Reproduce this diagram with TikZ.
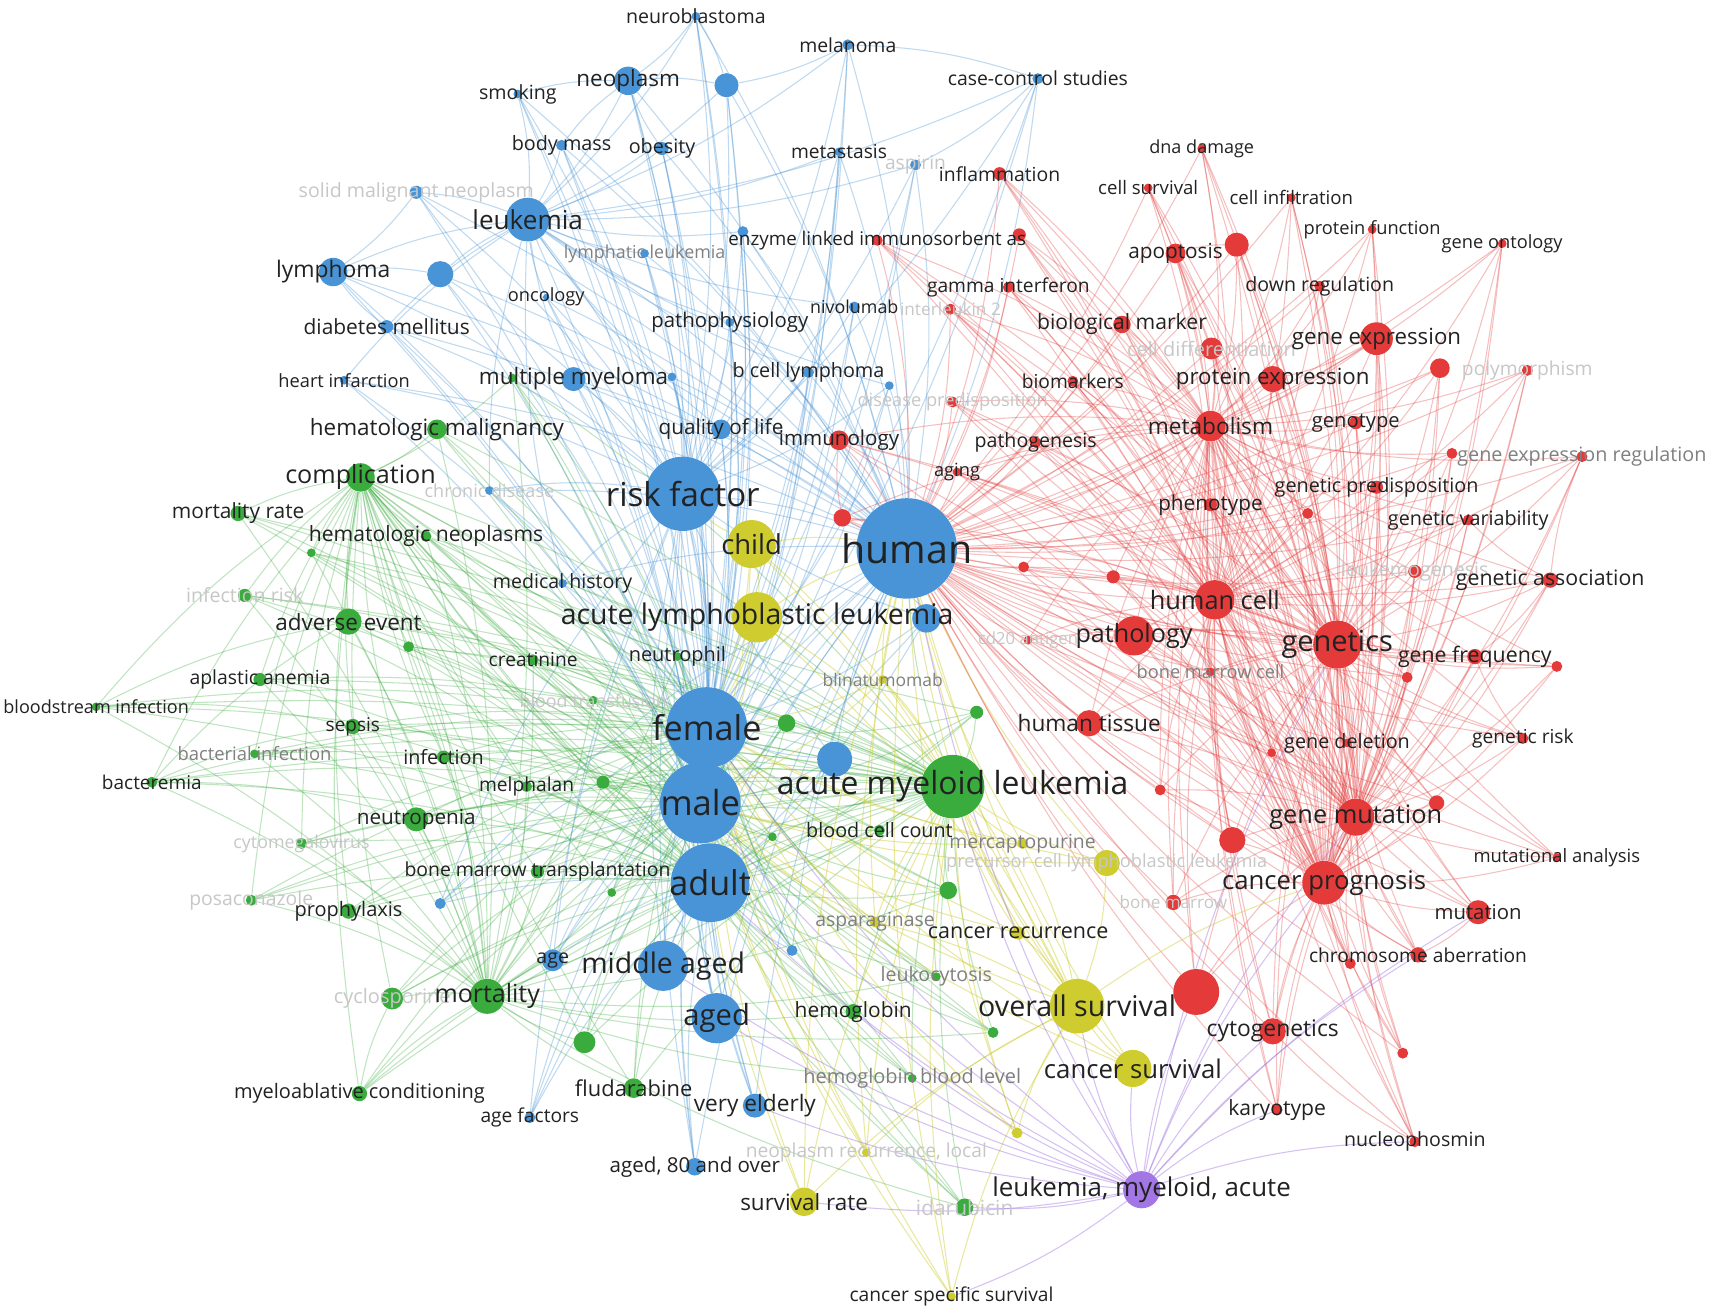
\documentclass[tikz,border=0pt]{standalone}
\usepackage{fontspec}
\setmainfont{Open Sans}
\pgfdeclarelayer{bg}
\pgfdeclarelayer{edges}
\pgfsetlayers{bg,edges,main}
\definecolor{cblue}{RGB}{72,148,214}
\definecolor{cred}{RGB}{228,58,58}
\definecolor{cgreen}{RGB}{58,172,62}
\definecolor{cyellow}{RGB}{206,204,46}
\definecolor{cpurple}{RGB}{162,118,228}
\definecolor{ctext}{RGB}{34,34,34}
\tikzset{
  kw/.style={circle, inner sep=0pt, fill=#1},
  sz/.style={minimum size=#1*0.4mm},
  lab/.style={inner sep=0pt, text=ctext},
  mid/.style={text=black!50},
  faint/.style={text=black!22},
  fz/.style={font=\fontsize{#1}{#1}\selectfont},
  eb/.style={draw=cblue, opacity=0.35, line width=0.55pt},
  er/.style={draw=cred, opacity=0.32, line width=0.55pt},
  eg/.style={draw=cgreen, opacity=0.32, line width=0.55pt},
  ey/.style={draw=cyellow, opacity=0.45, line width=0.55pt},
  ep/.style={draw=cpurple, opacity=0.45, line width=0.55pt}
}
\begin{document}
\begin{tikzpicture}[x=0.2mm, y=-0.2mm]
\useasboundingbox (0,0) rectangle (1568,1198);
\begin{pgfonlayer}{bg}
\fill[white] (0,0) rectangle (1568,1198);
\end{pgfonlayer}

% blue cluster
\node[kw=cblue, sz=4] (neurob) at (637,15) {};
\node[kw=cblue, sz=5] (melan) at (776,41) {};
\node[kw=cblue, sz=13] (neopl) at (575,74) {};
\node[kw=cblue, sz=11] (bx1) at (665,78) {};
\node[kw=cblue, sz=4] (smok) at (474,86) {};
\node[kw=cblue, sz=5] (casec) at (950,72) {};
\node[kw=cblue, sz=5] (bodym) at (514,133) {};
\node[kw=cblue, sz=6] (obes) at (606,136) {};
\node[kw=cblue, sz=4] (metas) at (768,139) {};
\node[kw=cblue, sz=5] (aspir) at (838,151) {};
\node[kw=cblue, sz=6] (solid) at (381,176) {};
\node[kw=cblue, sz=20] (leuk) at (483,201) {};
\node[kw=cblue, sz=4] (lymleuk) at (590,232) {};
\node[kw=cblue, sz=5] (bx2) at (680,212) {};
\node[kw=cblue, sz=12] (bx3) at (403,251) {};
\node[kw=cblue, sz=13] (lymph) at (305,249) {};
\node[kw=cblue, sz=3] (oncol) at (500,272) {};
\node[kw=cblue, sz=6] (diab) at (354,299) {};
\node[kw=cblue, sz=4] (patho) at (668,295) {};
\node[kw=cblue, sz=5] (nivo) at (782,281) {};
\node[kw=cblue, sz=4] (heart) at (315,348) {};
\node[kw=cblue, sz=11] (mm) at (525,347) {};
\node[kw=cblue, sz=4] (bx4) at (615,345) {};
\node[kw=cblue, sz=5] (bcell) at (740,341) {};
\node[kw=cblue, sz=4] (bx5) at (814,353) {};
\node[kw=cblue, sz=9] (qol) at (660,393) {};
\node[kw=cblue, sz=4] (chron) at (448,449) {};
\node[kw=cblue, sz=4] (medh) at (515,534) {};
\node[kw=cblue, sz=34] (rf) at (625,452) {};
\node[kw=cblue, sz=46] (hum) at (830,502) {};
\node[kw=cblue, sz=13] (bx7) at (848,566) {};
\node[kw=cblue, sz=37] (fem) at (647,666) {};
\node[kw=cblue, sz=16] (bx6) at (764,695) {};
\node[kw=cblue, sz=37] (male) at (641,735) {};
\node[kw=cblue, sz=36] (adult) at (650,808) {};
\node[kw=cblue, sz=5] (rfx) at (403,827) {};
\node[kw=cblue, sz=5] (bx8) at (725,870) {};
\node[kw=cblue, sz=10] (age) at (506,879) {};
\node[kw=cblue, sz=23] (midag) at (607,884) {};
\node[kw=cblue, sz=23] (aged) at (656,932) {};
\node[kw=cblue, sz=11] (velder) at (691,1012) {};
\node[kw=cblue, sz=5] (agef) at (485,1023) {};
\node[kw=cblue, sz=8] (age80) at (636,1068) {};

% red cluster
\node[kw=cred, sz=9] (immun) at (768,403) {};
\node[kw=cred, sz=8] (rx1) at (771,474) {};
\node[kw=cred, sz=5] (ilk) at (870,283) {};
\node[kw=cred, sz=5] (elisa) at (803,220) {};
\node[kw=cred, sz=6] (rx2) at (933,215) {};
\node[kw=cred, sz=5] (gamma) at (923,263) {};
\node[kw=cred, sz=6] (inflam) at (915,159) {};
\node[kw=cred, sz=4] (dnad) at (1100,136) {};
\node[kw=cred, sz=4] (cellsurv) at (1051,172) {};
\node[kw=cred, sz=4] (cellinf) at (1182,181) {};
\node[kw=cred, sz=4] (protf) at (1256,210) {};
\node[kw=cred, sz=4] (geneont) at (1375,223) {};
\node[kw=cred, sz=9] (apopt) at (1076,232) {};
\node[kw=cred, sz=11] (rx3) at (1132,224) {};
\node[kw=cred, sz=5] (downr) at (1208,262) {};
\node[kw=cred, sz=8] (biolm) at (1027,297) {};
\node[kw=cred, sz=10] (celldiff) at (1109,319) {};
\node[kw=cred, sz=15] (genexp) at (1260,310) {};
\node[kw=cred, sz=9] (rx4) at (1318,337) {};
\node[kw=cred, sz=5] (polym) at (1398,339) {};
\node[kw=cred, sz=12] (protexp) at (1165,347) {};
\node[kw=cred, sz=5] (biomk) at (982,349) {};
\node[kw=cred, sz=5] (disp) at (872,368) {};
\node[kw=cred, sz=14] (metab) at (1108,390) {};
\node[kw=cred, sz=6] (genot) at (1241,387) {};
\node[kw=cred, sz=5] (pathog) at (948,405) {};
\node[kw=cred, sz=4] (aging) at (876,432) {};
\node[kw=cred, sz=5] (gexreg) at (1448,418) {};
\node[kw=cred, sz=5] (rx5) at (1329,415) {};
\node[kw=cred, sz=6] (genpred) at (1260,446) {};
\node[kw=cred, sz=5] (rx6) at (1197,470) {};
\node[kw=cred, sz=6] (pheno) at (1108,462) {};
\node[kw=cred, sz=5] (genvar) at (1344,476) {};
\node[kw=cred, sz=5] (rx7) at (937,519) {};
\node[kw=cred, sz=6] (rx8) at (1019,528) {};
\node[kw=cred, sz=6] (leukgen) at (1295,523) {};
\node[kw=cred, sz=7] (genass) at (1419,531) {};
\node[kw=cred, sz=18] (humcell) at (1112,549) {};
\node[kw=cred, sz=4] (cd20) at (941,586) {};
\node[kw=cred, sz=18] (pathol) at (1038,582) {};
\node[kw=cred, sz=22] (genet) at (1224,590) {};
\node[kw=cred, sz=7] (genfreq) at (1350,601) {};
\node[kw=cred, sz=5] (rx9) at (1425,610) {};
\node[kw=cred, sz=5] (rx10) at (1288,620) {};
\node[kw=cred, sz=4] (bmcell) at (1108,615) {};
\node[kw=cred, sz=12] (humtis) at (997,662) {};
\node[kw=cred, sz=4] (rx11) at (1164,689) {};
\node[kw=cred, sz=4] (gendel) at (1233,680) {};
\node[kw=cred, sz=5] (genrisk) at (1394,676) {};
\node[kw=cred, sz=5] (rx12) at (1062,723) {};
\node[kw=cred, sz=17] (genmut) at (1241,748) {};
\node[kw=cred, sz=7] (rx13) at (1315,735) {};
\node[kw=cred, sz=12] (rx14) at (1128,769) {};
\node[kw=cred, sz=4] (mutan) at (1425,785) {};
\node[kw=cred, sz=20] (canprog) at (1212,808) {};
\node[kw=cred, sz=11] (mutat) at (1353,835) {};
\node[kw=cred, sz=7] (bonem) at (1074,826) {};
\node[kw=cred, sz=7] (chrom) at (1298,874) {};
\node[kw=cred, sz=5] (rx15) at (1236,882) {};
\node[kw=cred, sz=21] (rx16) at (1095,908) {};
\node[kw=cred, sz=12] (cyto) at (1165,944) {};
\node[kw=cred, sz=5] (dehyd) at (1284,964) {};
\node[kw=cred, sz=5] (karyo) at (1169,1016) {};
\node[kw=cred, sz=5] (nucleo) at (1295,1045) {};

% green cluster
\node[kw=cgreen, sz=4] (gx1) at (469,346) {};
\node[kw=cgreen, sz=9] (hemmal) at (400,393) {};
\node[kw=cgreen, sz=13] (compl) at (330,437) {};
\node[kw=cgreen, sz=7] (mortr) at (218,470) {};
\node[kw=cgreen, sz=4] (gx2) at (285,506) {};
\node[kw=cgreen, sz=5] (hemneo) at (390,491) {};
\node[kw=cgreen, sz=6] (infrisk) at (224,545) {};
\node[kw=cgreen, sz=12] (adv) at (319,569) {};
\node[kw=cgreen, sz=5] (gx3) at (374,592) {};
\node[kw=cgreen, sz=6] (aplas) at (238,622) {};
\node[kw=cgreen, sz=4] (blood) at (88,647) {};
\node[kw=cgreen, sz=7] (sepsis) at (323,665) {};
\node[kw=cgreen, sz=4] (bactinf) at (233,690) {};
\node[kw=cgreen, sz=6] (infect) at (406,693) {};
\node[kw=cgreen, sz=5] (bactm) at (139,716) {};
\node[kw=cgreen, sz=11] (neutp) at (381,750) {};
\node[kw=cgreen, sz=5] (cmv) at (276,772) {};
\node[kw=cgreen, sz=6] (bmt) at (492,798) {};
\node[kw=cgreen, sz=5] (posac) at (230,824) {};
\node[kw=cgreen, sz=7] (proph) at (319,834) {};
\node[kw=cgreen, sz=10] (cyclo) at (359,914) {};
\node[kw=cgreen, sz=16] (mort) at (446,912) {};
\node[kw=cgreen, sz=10] (gx4) at (535,954) {};
\node[kw=cgreen, sz=7] (myabl) at (329,1001) {};
\node[kw=cgreen, sz=9] (flud) at (580,996) {};
\node[kw=cgreen, sz=5] (creat) at (488,604) {};
\node[kw=cgreen, sz=4] (neutro) at (620,601) {};
\node[kw=cgreen, sz=4] (bltr) at (543,641) {};
\node[kw=cgreen, sz=8] (anem) at (720,662) {};
\node[kw=cgreen, sz=5] (melph) at (482,720) {};
\node[kw=cgreen, sz=6] (gx5) at (552,716) {};
\node[kw=cgreen, sz=4] (gx6) at (707,766) {};
\node[kw=cgreen, sz=5] (bcc) at (805,760) {};
\node[kw=cgreen, sz=29] (aml) at (872,720) {};
\node[kw=cgreen, sz=6] (gx7) at (894,652) {};
\node[kw=cgreen, sz=8] (gx8) at (868,815) {};
\node[kw=cgreen, sz=4] (gx9) at (560,817) {};
\node[kw=cgreen, sz=4] (leukoc) at (857,894) {};
\node[kw=cgreen, sz=7] (hemog) at (781,926) {};
\node[kw=cgreen, sz=5] (gx10) at (909,945) {};
\node[kw=cgreen, sz=4] (hbl) at (835,987) {};
\node[kw=cgreen, sz=8] (idar) at (883,1105) {};

% yellow cluster
\node[kw=cyellow, sz=22] (child) at (688,498) {};
\node[kw=cyellow, sz=23] (all) at (693,565) {};
\node[kw=cyellow, sz=4] (blina) at (808,622) {};
\node[kw=cyellow, sz=5] (mercap) at (936,772) {};
\node[kw=cyellow, sz=12] (precur) at (1013,790) {};
\node[kw=cyellow, sz=5] (aspar) at (801,844) {};
\node[kw=cyellow, sz=6] (canrec) at (932,854) {};
\node[kw=cyellow, sz=25] (os) at (986,921) {};
\node[kw=cyellow, sz=17] (csurv) at (1037,978) {};
\node[kw=cyellow, sz=5] (yx1) at (931,1037) {};
\node[kw=cyellow, sz=4] (neorec) at (793,1055) {};
\node[kw=cyellow, sz=13] (survr) at (736,1100) {};
\node[kw=cyellow, sz=4] (cspec) at (871,1187) {};

% purple cluster
\node[kw=cpurple, sz=17] (lma) at (1045,1089) {};

% links
\begin{pgfonlayer}{edges}
\foreach \s in {neurob,melan,neopl,bx1,smok,casec,bodym,obes,metas,aspir,solid,lymleuk,bx2,bx3,lymph,oncol,diab,patho,nivo,heart,mm,bx4,bcell,bx5,qol,chron,medh}
  {\foreach \t in {hum,rf,fem,male,leuk} {\draw[eb] (\s) to[bend left=8] (\t);}}
\foreach \s in {bx6,bx7,rfx,bx8,age,midag,aged,velder,agef,age80}
  {\foreach \t in {hum,rf,fem,male,adult} {\draw[eb] (\s) to[bend left=8] (\t);}}
\foreach \s/\t in {leuk/hum,leuk/rf,leuk/adult,rf/hum,rf/fem,rf/male,rf/adult,fem/hum,fem/male,fem/adult,male/hum,male/adult,adult/hum,neopl/bx1,neurob/bx1,melan/bx1,casec/aspir,obes/neopl,smok/neopl,bodym/neopl,solid/lymph,lymph/bx3,diab/lymph,neurob/neopl,melan/casec}
  {\draw[eb] (\s) to[bend left=8] (\t);}
\foreach \s in {immun,rx1,ilk,elisa,rx2,gamma,inflam,dnad,cellsurv,cellinf,protf,geneont,apopt,rx3,downr,biolm,celldiff,genexp,rx4,polym,protexp,biomk,disp,genot,pathog,aging,gexreg,rx5,genpred,rx6,pheno,genvar,rx7,rx8,leukgen,genass,cd20,pathol,genfreq,rx9,rx10,bmcell,humtis,rx11,gendel,genrisk,rx12,rx13,rx14,mutan,mutat,bonem,chrom,rx15,rx16,cyto,dehyd,karyo,nucleo}
  {\foreach \t in {hum,genet,canprog,humcell,genmut,metab} {\draw[er] (\s) to[bend left=8] (\t);}}
\foreach \s/\t in {genet/hum,genet/canprog,genet/humcell,genet/genmut,genet/metab,canprog/hum,canprog/humcell,canprog/genmut,humcell/hum,humcell/metab,genmut/hum,metab/hum,genexp/protexp,apopt/rx3,genass/genfreq,genass/genvar,mutat/chrom,nucleo/cyto,rx1/immun,genass/gexreg,genrisk/genfreq}
  {\draw[er] (\s) to[bend left=8] (\t);}
\foreach \s in {gx1,hemmal,mortr,gx2,hemneo,infrisk,adv,gx3,aplas,blood,sepsis,bactinf,infect,bactm,neutp,cmv,bmt,posac,proph,cyclo,gx4,myabl,flud,creat,neutro,bltr,anem,melph,gx5,gx6,bcc,gx7,gx8,gx9,leukoc,hemog,gx10,hbl,idar}
  {\foreach \t in {aml,mort,compl,fem,male,adult} {\draw[eg] (\s) to[bend left=8] (\t);}}
\foreach \s/\t in {aml/hum,aml/fem,aml/male,aml/adult,mort/aml,compl/aml,compl/mort,mort/male,compl/fem,blood/sepsis,bactm/adv,bactm/neutp,myabl/cyclo,blood/adv,bactm/sepsis}
  {\draw[eg] (\s) to[bend left=8] (\t);}
\foreach \s in {child,all,blina,mercap,precur,aspar,canrec,csurv,yx1,neorec,survr,cspec}
  {\foreach \t in {os,hum,aml,fem,male} {\draw[ey] (\s) to[bend left=8] (\t);}}
\foreach \s/\t in {os/hum,os/aml,os/male,os/canprog,child/all,child/rf}
  {\draw[ey] (\s) to[bend left=8] (\t);}
\foreach \t in {hum,aml,os,csurv,canprog,cyto,genet,genmut,karyo,nucleo,fem,male,adult,aged,midag,idar,survr,velder,rx16,chrom,mutat,hemog,hbl,cspec}
  {\draw[ep] (lma) to[bend left=8] (\t);}
\end{pgfonlayer}

% labels
\node[lab, fz=10.2] (t-neurob) at (neurob) {neuroblastoma};
\node[lab, fz=10.1] (t-melan) at (melan) {melanoma};
\node[lab, fz=11.7] (t-neopl) at (neopl) {neoplasm};
\node[lab, fz=10.2] (t-smok) at (smok) {smoking};
\node[lab, fz=10.1] (t-casec) at (casec) {case-control studies};
\node[lab, fz=10.3] (t-bodym) at (bodym) {body mass};
\node[lab, fz=10.3] (t-obes) at (obes) {obesity};
\node[lab, fz=10] (t-metas) at (metas) {metastasis};
\node[lab, faint, fz=10] (t-aspir) at (aspir) {aspirin};
\node[lab, faint, fz=10.2] (t-solid) at (solid) {solid malignant neoplasm};
\node[lab, fz=13.6] (t-leuk) at (leuk) {leukemia};
\node[lab, mid, fz=9.3] (t-lymleuk) at (lymleuk) {lymphatic leukemia};
\node[lab, fz=11.9] (t-lymph) at (lymph) {lymphoma};
\node[lab, fz=9.5] (t-oncol) at (oncol) {oncology};
\node[lab, fz=10.9] (t-diab) at (diab) {diabetes mellitus};
\node[lab, fz=10.6] (t-patho) at (patho) {pathophysiology};
\node[lab, fz=9.3] (t-nivo) at (nivo) {nivolumab};
\node[lab, fz=9.5] (t-heart) at (heart) {heart infarction};
\node[lab, fz=11.7] (t-mm) at (mm) {multiple myeloma};
\node[lab, fz=10.3] (t-bcell) at (bcell) {b cell lymphoma};
\node[lab, fz=10.8] (t-qol) at (qol) {quality of life};
\node[lab, faint, fz=9.4] (t-chron) at (chron) {chronic disease};
\node[lab, fz=10.2] (t-medh) at (medh) {medical history};
\node[lab, fz=17.2] (t-rf) at (rf) {risk factor};
\node[lab, fz=20.5] (t-hum) at (hum) {human};
\node[lab, fz=17.8] (t-fem) at (fem) {female};
\node[lab, fz=18] (t-male) at (male) {male};
\node[lab, fz=17.8] (t-adult) at (adult) {adult};
\node[lab, fz=10.2] (t-age) at (age) {age};
\node[lab, fz=14.8] (t-midag) at (midag) {middle aged};
\node[lab, fz=15.2] (t-aged) at (aged) {aged};
\node[lab, fz=11.8] (t-velder) at (velder) {very elderly};
\node[lab, fz=10] (t-agef) at (agef) {age factors};
\node[lab, fz=10.7] (t-age80) at (age80) {aged, 80 and over};

\node[lab, fz=10.7] (t-immun) at (immun) {immunology};
\node[lab, faint, fz=9] (t-ilk) at (ilk) {interleukin 2};
\node[lab, fz=9.8] (t-elisa) at (elisa) {enzyme linked immunosorbent as};
\node[lab, fz=10] (t-gamma) at (gamma) {gamma interferon};
\node[lab, fz=10.1] (t-inflam) at (inflam) {inflammation};
\node[lab, fz=9.4] (t-dnad) at (dnad) {dna damage};
\node[lab, fz=9.7] (t-cellsurv) at (cellsurv) {cell survival};
\node[lab, fz=9.7] (t-cellinf) at (cellinf) {cell infiltration};
\node[lab, fz=9.5] (t-protf) at (protf) {protein function};
\node[lab, fz=9.5] (t-geneont) at (geneont) {gene ontology};
\node[lab, fz=10.8] (t-apopt) at (apopt) {apoptosis};
\node[lab, fz=10.2] (t-downr) at (downr) {down regulation};
\node[lab, fz=11] (t-biolm) at (biolm) {biological marker};
\node[lab, faint, fz=10.4] (t-celldiff) at (celldiff) {cell differentiation};
\node[lab, fz=11.6] (t-genexp) at (genexp) {gene expression};
\node[lab, faint, fz=10] (t-polym) at (polym) {polymorphism};
\node[lab, fz=11.6] (t-protexp) at (protexp) {protein expression};
\node[lab, fz=10] (t-biomk) at (biomk) {biomarkers};
\node[lab, faint, fz=9.5] (t-disp) at (disp) {disease predisposition};
\node[lab, fz=11.8] (t-metab) at (metab) {metabolism};
\node[lab, fz=10.5] (t-genot) at (genot) {genotype};
\node[lab, fz=10.2] (t-pathog) at (pathog) {pathogenesis};
\node[lab, fz=9.5] (t-aging) at (aging) {aging};
\node[lab, mid, fz=10.3] (t-gexreg) at (gexreg) {gene expression regulation};
\node[lab, fz=10.3] (t-genpred) at (genpred) {genetic predisposition};
\node[lab, fz=10.8] (t-pheno) at (pheno) {phenotype};
\node[lab, fz=10.3] (t-genvar) at (genvar) {genetic variability};
\node[lab, faint, fz=10.2] (t-leukgen) at (leukgen) {leukemogenesis};
\node[lab, fz=11.1] (t-genass) at (genass) {genetic association};
\node[lab, fz=13.2] (t-humcell) at (humcell) {human cell};
\node[lab, faint, fz=8.7] (t-cd20) at (cd20) {cd20 antigen};
\node[lab, fz=13.1] (t-pathol) at (pathol) {pathology};
\node[lab, fz=15.1] (t-genet) at (genet) {genetics};
\node[lab, fz=11.1] (t-genfreq) at (genfreq) {gene frequency};
\node[lab, mid, fz=9.5] (t-bmcell) at (bmcell) {bone marrow cell};
\node[lab, fz=11.8] (t-humtis) at (humtis) {human tissue};
\node[lab, fz=10.3] (t-gendel) at (gendel) {gene deletion};
\node[lab, fz=10] (t-genrisk) at (genrisk) {genetic risk};
\node[lab, fz=13.2] (t-genmut) at (genmut) {gene mutation};
\node[lab, fz=9.6] (t-mutan) at (mutan) {mutational analysis};
\node[lab, fz=13.4] (t-canprog) at (canprog) {cancer prognosis};
\node[lab, fz=10.6] (t-mutat) at (mutat) {mutation};
\node[lab, faint, fz=8.9] (t-bonem) at (bonem) {bone marrow};
\node[lab, fz=10] (t-chrom) at (chrom) {chromosome aberration};
\node[lab, fz=11.9] (t-cyto) at (cyto) {cytogenetics};
\node[lab, fz=11] (t-karyo) at (karyo) {karyotype};
\node[lab, fz=10.2] (t-nucleo) at (nucleo) {nucleophosmin};

\node[lab, fz=11.7] (t-hemmal) at (hemmal) {hematologic malignancy};
\node[lab, fz=13.1] (t-compl) at (compl) {complication};
\node[lab, fz=10.9] (t-mortr) at (mortr) {mortality rate};
\node[lab, fz=11] (t-hemneo) at (hemneo) {hematologic neoplasms};
\node[lab, faint, fz=10.2] (t-infrisk) at (infrisk) {infection risk};
\node[lab, fz=11.7] (t-adv) at (adv) {adverse event};
\node[lab, fz=10.1] (t-aplas) at (aplas) {aplastic anemia};
\node[lab, fz=9.4] (t-blood) at (blood) {bloodstream infection};
\node[lab, fz=9.9] (t-sepsis) at (sepsis) {sepsis};
\node[lab, mid, fz=9.6] (t-bactinf) at (bactinf) {bacterial infection};
\node[lab, fz=10.3] (t-infect) at (infect) {infection};
\node[lab, fz=9.9] (t-bactm) at (bactm) {bacteremia};
\node[lab, fz=10.8] (t-neutp) at (neutp) {neutropenia};
\node[lab, faint, fz=9.3] (t-cmv) at (cmv) {cytomegalovirus};
\node[lab, fz=10.1] (t-bmt) at (bmt) {bone marrow transplantation};
\node[lab, faint, fz=10.1] (t-posac) at (posac) {posaconazole};
\node[lab, fz=10.4] (t-proph) at (proph) {prophylaxis};
\node[lab, faint, fz=10.4] (t-cyclo) at (cyclo) {cyclosporine};
\node[lab, fz=13] (t-mort) at (mort) {mortality};
\node[lab, fz=10.4] (t-myabl) at (myabl) {myeloablative conditioning};
\node[lab, fz=11.4] (t-flud) at (flud) {fludarabine};
\node[lab, fz=10] (t-creat) at (creat) {creatinine};
\node[lab, fz=10.4] (t-neutro) at (neutro) {neutrophil};
\node[lab, faint, fz=9.3] (t-bltr) at (bltr) {blood transfusion};
\node[lab, fz=10] (t-melph) at (melph) {melphalan};
\node[lab, fz=10.3] (t-bcc) at (bcc) {blood cell count};
\node[lab, fz=16.6] (t-aml) at (aml) {acute myeloid leukemia};
\node[lab, mid, fz=10.2] (t-leukoc) at (leukoc) {leukocytosis};
\node[lab, fz=10.9] (t-hemog) at (hemog) {hemoglobin};
\node[lab, mid, fz=10.4] (t-hbl) at (hbl) {hemoglobin blood level};
\node[lab, faint, fz=10.9] (t-idar) at (idar) {idarubicin};

\node[lab, fz=14.3] (t-child) at (child) {child};
\node[lab, fz=14.8] (t-all) at (all) {acute lymphoblastic leukemia};
\node[lab, mid, fz=9.1] (t-blina) at (blina) {blinatumomab};
\node[lab, mid, fz=10.1] (t-mercap) at (mercap) {mercaptopurine};
\node[lab, faint, fz=9.5] (t-precur) at (precur) {precursor cell lymphoblastic leukemia};
\node[lab, mid, fz=10.1] (t-aspar) at (aspar) {asparaginase};
\node[lab, fz=11.2] (t-canrec) at (canrec) {cancer recurrence};
\node[lab, fz=14.9] (t-os) at (os) {overall survival};
\node[lab, fz=13.4] (t-csurv) at (csurv) {cancer survival};
\node[lab, faint, fz=10] (t-neorec) at (neorec) {neoplasm recurrence, local};
\node[lab, fz=11.7] (t-survr) at (survr) {survival rate};
\node[lab, fz=10] (t-cspec) at (cspec) {cancer specific survival};

\node[lab, fz=13.5] (t-lma) at (lma) {leukemia, myeloid, acute};
\end{tikzpicture}
\end{document}
